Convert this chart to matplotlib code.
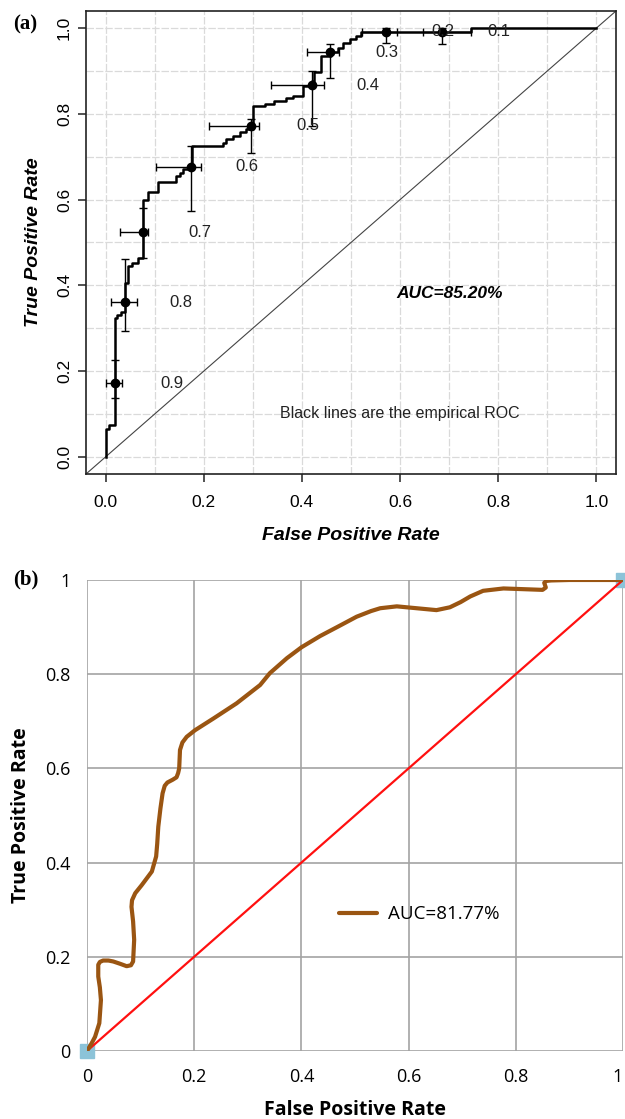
import matplotlib
matplotlib.use('Agg')
import matplotlib.pyplot as plt
import numpy as np

# ---------------- Panel (a) data: empirical ROC (step curve) ----------------
roc_fpr = [0.0, 0.0, 0.007, 0.019, 0.024, 0.031, 0.040, 0.046, 0.053, 0.065,
           0.077, 0.087, 0.107, 0.144, 0.151, 0.158, 0.168, 0.175, 0.239, 0.246,
           0.259, 0.273, 0.287, 0.301, 0.324, 0.344, 0.368, 0.381, 0.402, 0.421,
           0.425, 0.439, 0.459, 0.473, 0.483, 0.497, 0.510, 0.520, 0.744, 1.0]
roc_tpr = [0.0, 0.064, 0.075, 0.324, 0.332, 0.338, 0.405, 0.444, 0.452, 0.464,
           0.600, 0.617, 0.640, 0.656, 0.663, 0.671, 0.679, 0.726, 0.733, 0.741,
           0.749, 0.757, 0.765, 0.819, 0.823, 0.830, 0.838, 0.842, 0.865, 0.877,
           0.897, 0.934, 0.945, 0.953, 0.965, 0.974, 0.982, 0.991, 1.0, 1.0]

thr_labels = ['0.9', '0.8', '0.7', '0.6', '0.5', '0.4', '0.3', '0.2', '0.1']
pt_fpr = [0.020, 0.039, 0.077, 0.173, 0.297, 0.420, 0.458, 0.572, 0.686]
pt_tpr = [0.172, 0.361, 0.524, 0.677, 0.772, 0.867, 0.944, 0.991, 0.991]
fpr_lo = [0.000, 0.010, 0.029, 0.102, 0.210, 0.337, 0.410, 0.523, 0.646]
fpr_hi = [0.034, 0.063, 0.087, 0.195, 0.312, 0.445, 0.475, 0.593, 0.745]
tpr_lo = [0.137, 0.294, 0.464, 0.574, 0.708, 0.771, 0.883, 0.965, 0.963]
tpr_hi = [0.227, 0.461, 0.580, 0.725, 0.788, 0.900, 0.963, 1.000, 1.000]

auc_a_text = 'AUC=85.20%'
note_a_text = 'Black lines are the empirical ROC'

# ---------------- Panel (b) data: smoothed ROC ----------------
curve_fpr = [0.0, 0.008, 0.015, 0.023, 0.026, 0.024, 0.021, 0.021, 0.024, 0.030,
             0.040, 0.049, 0.062, 0.074, 0.082, 0.086, 0.088, 0.086, 0.083, 0.084,
             0.090, 0.102, 0.121, 0.129, 0.131, 0.133, 0.137, 0.141, 0.145, 0.150,
             0.160, 0.167, 0.170, 0.172, 0.1735, 0.178, 0.186, 0.2015, 0.236, 0.279,
             0.323, 0.341, 0.373, 0.400, 0.435, 0.470, 0.503, 0.530, 0.547, 0.578,
             0.615, 0.652, 0.677, 0.697, 0.715, 0.739, 0.777, 0.826, 0.850, 0.856,
             0.853, 0.857, 0.866, 0.900, 0.950, 1.0]
curve_tpr = [0.0, 0.015, 0.030, 0.059, 0.108, 0.135, 0.158, 0.183, 0.189, 0.192,
             0.192, 0.190, 0.185, 0.180, 0.182, 0.190, 0.236, 0.275, 0.306, 0.320,
             0.335, 0.352, 0.381, 0.413, 0.440, 0.476, 0.515, 0.547, 0.563, 0.570,
             0.576, 0.581, 0.590, 0.600, 0.639, 0.655, 0.667, 0.681, 0.706, 0.738,
             0.777, 0.802, 0.834, 0.857, 0.881, 0.902, 0.922, 0.934, 0.940, 0.944,
             0.940, 0.936, 0.942, 0.953, 0.965, 0.977, 0.982, 0.980, 0.979, 0.984,
             0.994, 0.998, 0.999, 1.0, 1.0, 1.0]
corner_fpr = [0.0, 1.0]
corner_tpr = [0.0, 1.0]
auc_b_label = 'AUC=81.77%'

# ---------------- Figure ----------------
fig = plt.figure(figsize=(6.25, 11.19), dpi=100)

# ===== Panel (a) =====
fa = 'Liberation Sans'
axa = fig.add_axes([0.1376, 0.5764, 0.848, 0.4138])
axa.set_xlim(-0.04, 1.04)
axa.set_ylim(-0.04, 1.04)
grid_ticks = np.round(np.arange(0, 1.01, 0.1), 1)
axa.set_xticks(grid_ticks, minor=True)
axa.set_yticks(grid_ticks, minor=True)
axa.set_xticks([0, 0.2, 0.4, 0.6, 0.8, 1.0])
axa.set_yticks([0, 0.2, 0.4, 0.6, 0.8, 1.0])
axa.set_xticklabels(['0.0', '0.2', '0.4', '0.6', '0.8', '1.0'], fontfamily=fa, fontsize=12.5)
axa.set_yticklabels(['0.0', '0.2', '0.4', '0.6', '0.8', '1.0'], fontfamily=fa, fontsize=12.5,
                    rotation=90, va='center')
axa.grid(which='both', color='#dadada', lw=0.9, ls=(0, (6, 1.5)))
axa.set_axisbelow(True)
axa.tick_params(which='minor', length=0)
axa.tick_params(axis='x', which='major', length=6, width=1.1, direction='out', pad=9,
                color='#222222')
axa.tick_params(axis='y', which='major', length=6, width=1.1, direction='out', pad=4,
                color='#222222')
for s in axa.spines.values():
    s.set_linewidth(1.2)
    s.set_color('#222222')

axa.axline((0, 0), slope=1, color='#444444', lw=0.8)
axa.step(roc_fpr, roc_tpr, where='post', color='black', lw=1.8)

xe = [np.array(pt_fpr) - np.array(fpr_lo), np.array(fpr_hi) - np.array(pt_fpr)]
ye = [np.array(pt_tpr) - np.array(tpr_lo), np.array(tpr_hi) - np.array(pt_tpr)]
axa.errorbar(pt_fpr, pt_tpr, xerr=xe, yerr=ye, fmt='o', color='black', ms=6,
             capsize=3.2, elinewidth=1.0, capthick=1.0)
for lab, x, y in zip(thr_labels, pt_fpr, pt_tpr):
    axa.text(x + 0.115, y, lab, ha='center', va='center', fontsize=12, fontfamily=fa,
             color='#222222')

axa.text(0.70, 0.382, auc_a_text, ha='center', va='center', fontsize=12.5,
         fontweight='bold', fontstyle='italic', fontfamily=fa)
axa.text(0.60, 0.101, note_a_text, ha='center', va='center', fontsize=11.5,
         fontfamily=fa, color='#222222')
axa.set_xlabel('False Positive Rate', fontsize=14, fontweight='bold', fontstyle='italic',
               fontfamily=fa, labelpad=12)
axa.set_ylabel('True Positive Rate', fontsize=14, fontweight='bold', fontstyle='italic',
               fontfamily=fa, labelpad=11)
fig.text(0.021, 0.978, '(a)', fontsize=15, fontweight='bold', fontfamily='Liberation Serif',
         ha='left', va='center')

# ===== Panel (b) =====
fb = 'Open Sans'
axb = fig.add_axes([0.1392, 0.0608, 0.8576, 0.4209])
axb.set_xlim(0, 1)
axb.set_ylim(0, 1)
ticks_b = [0, 0.2, 0.4, 0.6, 0.8, 1.0]
tick_lab_b = ['0', '0.2', '0.4', '0.6', '0.8', '1']
axb.set_xticks(ticks_b)
axb.set_yticks(ticks_b)
axb.set_xticklabels(tick_lab_b, fontfamily=fb, fontsize=13)
axb.set_yticklabels(tick_lab_b, fontfamily=fb, fontsize=13)
axb.get_xticklabels()[-1].set_ha('right')
axb.tick_params(length=0, pad=12)
for s in axb.spines.values():
    s.set_visible(False)
axb.grid(True, color='#a3a3a3', lw=1.2)
axb.set_axisbelow(True)

axb.plot([0, 1], [0, 1], color='#ff1010', lw=1.6, zorder=3)
line_b, = axb.plot(curve_fpr, curve_tpr, color='#9a5512', lw=3.0, zorder=4,
                   solid_joinstyle='round', solid_capstyle='round', label=auc_b_label)
axb.plot(corner_fpr, corner_tpr, ls='none', marker='s', ms=10, color='#8cc3d8',
         clip_on=False, zorder=2)
leg = axb.legend(handles=[line_b], loc='center', bbox_to_anchor=(0.62, 0.29),
                 frameon=False, prop={'family': fb, 'size': 13.5}, handlelength=2.0,
                 handletextpad=0.6)
axb.set_xlabel('False Positive Rate', fontsize=14, fontweight='bold', fontfamily=fb,
               labelpad=10)
axb.set_ylabel('True Positive Rate', fontsize=14, fontweight='bold', fontfamily=fb,
               labelpad=10)
fig.text(0.021, 0.482, '(b)', fontsize=15, fontweight='bold', fontfamily='Liberation Serif',
         ha='left', va='center')

fig.savefig('out.png', dpi=100)
